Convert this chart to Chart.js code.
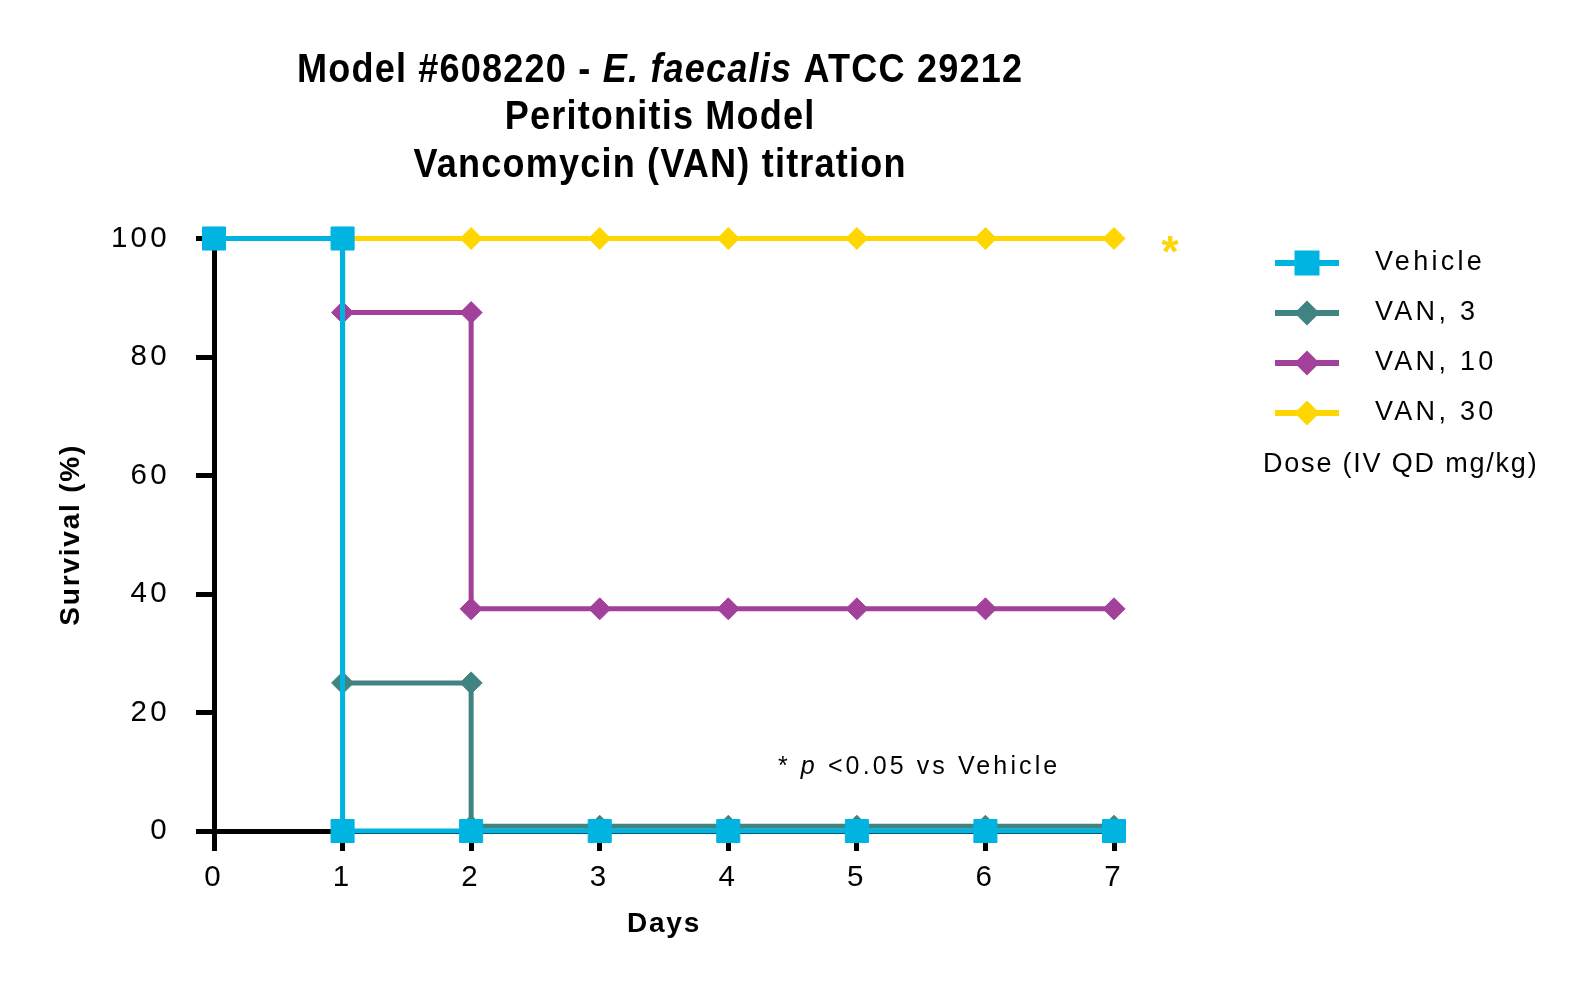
<!DOCTYPE html>
<html>
<head>
<meta charset="utf-8">
<script src="https://cdn.jsdelivr.net/npm/chart.js@4.4.1/dist/chart.umd.min.js"></script>
<style>
html,body{margin:0;padding:0;background:#ffffff;}
#wrap{width:1579px;height:990px;position:relative;}
</style>
</head>
<body>
<div id="wrap"><canvas id="c" width="1579" height="990"></canvas></div>
<script>
// ---------- data ----------
const seriesNames = ['Vehicle', 'VAN, 3', 'VAN, 10', 'VAN, 30'];
const seriesColors = ['#00B4E2', '#3F8480', '#A2409A', '#FFD600'];
const seriesMarkers = ['rect', 'rectRot', 'rectRot', 'rectRot'];

const vehicleDays     = [0, 1, 1, 2, 3, 4, 5, 6, 7];
const vehicleSurvival = [100, 100, 0, 0, 0, 0, 0, 0, 0];

const van3Days     = [0, 1, 1, 2, 2, 3, 4, 5, 6, 7];
const van3Survival = [100, 100, 25, 25, 0.8, 0.8, 0.8, 0.8, 0.8, 0.8];

const van10Days     = [0, 1, 1, 2, 2, 3, 4, 5, 6, 7];
const van10Survival = [100, 100, 87.5, 87.5, 37.5, 37.5, 37.5, 37.5, 37.5, 37.5];

const van30Days     = [0, 1, 2, 3, 4, 5, 6, 7];
const van30Survival = [100, 100, 100, 100, 100, 100, 100, 100];

const xTicks = [0, 1, 2, 3, 4, 5, 6, 7];
const yTicks = [0, 20, 40, 60, 80, 100];

const titleLine1 = [['Model #608220 - ', false], ['E. faecalis', true], [' ATCC 29212', false]];
const titleLine2 = 'Peritonitis Model';
const titleLine3 = 'Vancomycin (VAN) titration';
const xTitle = 'Days';
const yTitle = 'Survival (%)';
const legendNote = 'Dose (IV QD mg/kg)';
const sigMark = '*';

// ---------- styling ----------
const FONT = "'Liberation Sans', Arial, Helvetica, sans-serif";
Chart.defaults.font.family = FONT;
Chart.defaults.color = '#000';

function toPoints(xs, ys) { return xs.map((x, i) => ({ x: x, y: ys[i] })); }
const seriesData = [
  toPoints(vehicleDays, vehicleSurvival),
  toPoints(van3Days, van3Survival),
  toPoints(van10Days, van10Survival),
  toPoints(van30Days, van30Survival)
];

function makeIcon(color, shape) {
  const c = document.createElement('canvas');
  c.width = 66; c.height = 30;
  const g = c.getContext('2d');
  g.fillStyle = color;
  g.fillRect(1, 12, 64, 6);
  const cx = 33, cy = 15;
  if (shape === 'rect') {
    g.fillRect(cx - 12.5, cy - 12.5, 25, 25);
  } else {
    g.beginPath();
    g.moveTo(cx - 12.5, cy); g.lineTo(cx, cy - 12.5);
    g.lineTo(cx + 12.5, cy); g.lineTo(cx, cy + 12.5);
    g.closePath(); g.fill();
  }
  return c;
}
const legendIcons = seriesColors.map((c, i) => makeIcon(c, seriesMarkers[i]));

const datasets = seriesNames.map((name, i) => ({
  label: name,
  data: seriesData[i],
  borderColor: seriesColors[i],
  backgroundColor: seriesColors[i],
  borderWidth: 5,
  stepped: true,
  fill: false,
  clip: false,
  pointStyle: seriesMarkers[i],
  pointRadius: seriesMarkers[i] === 'rect' ? 16.3 : 11,
  pointHoverRadius: seriesMarkers[i] === 'rect' ? 16.3 : 11,
  pointBorderWidth: 1,
  pointBorderColor: seriesColors[i],
  pointBackgroundColor: seriesColors[i]
}));

// airy letter spacing like the reference typesetting
const spacingPlugin = {
  id: 'spacing',
  beforeDraw(chart) { chart.ctx.letterSpacing = '3.3px'; }
};

// place the library legend to the right of the plot, tighten axis-title spacing
const legendPlacer = {
  id: 'legendPlacer',
  afterLayout(chart) {
    const lg = chart.legend;
    if (lg) {
      lg.left = 1229.5; lg.right = 1579;
      lg.top = 226.5; lg.bottom = 990;
      lg.width = lg.right - lg.left; lg.height = lg.bottom - lg.top;
    }
    ['x', 'y'].forEach(id => {
      const s = chart.scales[id];
      if (s && !s._tPatched) {
        const orig = s.drawTitle;
        s.drawTitle = function () {
          const c = this.ctx; const prev = c.letterSpacing;
          c.letterSpacing = '1.8px';
          orig.apply(this, arguments);
          c.letterSpacing = prev;
        };
        s._tPatched = true;
      }
    });
  }
};

function measureSegs(ctx, segs) {
  let w = 0, n = 0;
  ctx.letterSpacing = '0px';
  segs.forEach(s => { ctx.font = s.font; w += ctx.measureText(s.text).width; n += [...s.text].length; });
  return { nat: w, n: n };
}
function drawSegs(ctx, segs, startX, baseline, sp, k) {
  ctx.save();
  ctx.translate(startX, baseline);
  ctx.scale(k, 1);
  let x = 0;
  segs.forEach(s => {
    ctx.font = s.font;
    ctx.letterSpacing = '0px';
    const w = ctx.measureText(s.text).width;
    ctx.letterSpacing = sp + 'px';
    ctx.fillText(s.text, x, 0);
    x += w + sp * [...s.text].length;
  });
  ctx.restore();
}

const textPlugin = {
  id: 'texts',
  afterDraw(chart) {
    const ctx = chart.ctx;
    const xs = chart.scales.x, ys = chart.scales.y;
    ctx.save();
    ctx.fillStyle = '#000';
    ctx.textAlign = 'left';
    ctx.textBaseline = 'alphabetic';

    // ---- title (condensed bold) ----
    const k = 0.88;
    const tb = 'bold 41px ' + FONT;
    const ti = 'italic bold 41px ' + FONT;
    const l1 = titleLine1.map(p => ({ text: p[0], font: p[1] ? ti : tb }));
    const m1 = measureSegs(ctx, l1);
    let sp = (725 / k - m1.nat) / (m1.n - 1);
    if (sp < 0) sp = 0;
    const cx = 659.5;
    [[l1, 81.5], [[{ text: titleLine2, font: tb }], 129], [[{ text: titleLine3, font: tb }], 176.5]].forEach(([segs, base]) => {
      const m = measureSegs(ctx, segs);
      const total = k * (m.nat + sp * (m.n - 1));
      drawSegs(ctx, segs, cx - total / 2, base, sp, k);
    });

    // ---- significance mark next to VAN, 30 ----
    ctx.letterSpacing = '0px';
    ctx.fillStyle = seriesColors[3];
    ctx.font = 'bold 44px ' + FONT;
    ctx.textAlign = 'center';
    ctx.fillText(sigMark, xs.getPixelForValue(7) + 56, ys.getPixelForValue(100) + 28);

    // ---- note "* p <0.05 vs Vehicle" ----
    ctx.fillStyle = '#000';
    ctx.textAlign = 'left';
    const nf = '25px ' + FONT, nfi = 'italic 25px ' + FONT;
    drawSegs(ctx, [{ text: '* ', font: nf }, { text: 'p', font: nfi }, { text: ' <0.05 vs Vehicle', font: nf }],
      778, ys.getPixelForValue(0) - 57, 3.1, 1);

    // ---- legend caption ----
    drawSegs(ctx, [{ text: legendNote, font: '27px ' + FONT }], 1263, 471.7, 1.8, 1);
    ctx.restore();
  }
};

const chart = new Chart(document.getElementById('c'), {
  type: 'line',
  data: { datasets: datasets },
  options: {
    responsive: false,
    animation: false,
    events: [],
    layout: { padding: { left: 0, top: 238.5, right: 465, bottom: 0 } },
    plugins: {
      title: { display: false },
      tooltip: { enabled: false },
      legend: {
        display: true,
        position: 'chartArea',
        align: 'start',
        labels: {
          usePointStyle: true,
          pointStyleWidth: 109,
          padding: 23,
          color: '#000',
          font: { size: 27, family: FONT },
          generateLabels: (ch) => ch.data.datasets.map((ds, i) => ({
            text: ds.label,
            pointStyle: legendIcons[i],
            fillStyle: ds.borderColor,
            strokeStyle: ds.borderColor,
            lineWidth: 0,
            hidden: false,
            datasetIndex: i
          }))
        }
      }
    },
    scales: {
      x: {
        type: 'linear',
        min: 0, max: 7,
        afterBuildTicks: (s) => { s.ticks = xTicks.map(v => ({ value: v })); },
        afterFit: (s) => { s.height = 159; },
        border: { display: true, color: '#000', width: 5 },
        grid: { drawOnChartArea: false, drawTicks: true, tickLength: 20, tickWidth: 5, tickColor: '#000', color: '#000', lineWidth: 5 },
        ticks: { color: '#000', font: { size: 29.5, family: FONT }, padding: 9, autoSkip: false, maxRotation: 0, minRotation: 0 },
        title: { display: true, text: xTitle, color: '#000', font: { size: 28, weight: 'bold', family: FONT }, padding: { top: 0, bottom: 49 } }
      },
      y: {
        type: 'linear',
        min: 0, max: 100,
        afterBuildTicks: (s) => { s.ticks = yTicks.map(v => ({ value: v })); },
        afterFit: (s) => { s.width = 214; },
        border: { display: true, color: '#000', width: 5 },
        grid: { drawOnChartArea: false, drawTicks: true, tickLength: 18, tickWidth: 5, tickColor: '#000', color: '#000', lineWidth: 5 },
        ticks: { color: '#000', font: { size: 29.5, family: FONT }, padding: 26 },
        title: { display: true, text: yTitle, color: '#000', font: { size: 28, weight: 'bold', family: FONT }, padding: { top: 54, bottom: 0 } }
      }
    }
  },
  plugins: [spacingPlugin, legendPlacer, textPlugin]
});
</script>
</body>
</html>
